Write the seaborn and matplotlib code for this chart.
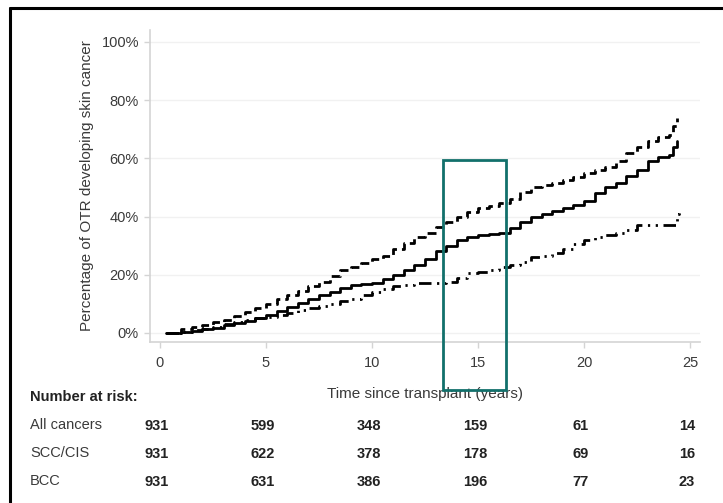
import numpy as np
import pandas as pd
import matplotlib
matplotlib.use("Agg")
import matplotlib.pyplot as plt
import matplotlib.transforms as mtransforms
from matplotlib.lines import Line2D
from matplotlib.patches import Rectangle
import seaborn as sns

# Cumulative incidence (%) over years since transplant
all_years = [0.3, 1, 1.5, 2, 2.5, 3, 3.5, 4, 4.5, 5, 5.5, 6, 6.5, 7, 7.5, 8, 8.5, 9, 9.5,
             10, 10.5, 11, 11.5, 12, 12.5, 13, 13.5, 14, 14.5, 15, 15.5, 16, 16.5, 17,
             17.5, 18, 18.5, 19, 19.5, 20, 20.5, 21, 21.5, 22, 22.5, 23, 23.5, 24, 24.2, 24.4]
all_pct = [0, 1.2, 2, 2.8, 3.6, 4.6, 5.8, 7.2, 8.6, 10, 11.5, 13, 14.5, 16, 17.5, 19.5, 21.5,
           22.5, 24, 25.5, 26.5, 29, 31, 33, 34.5, 36.5, 38, 40, 41.5, 43, 43.5, 44.5, 46,
           48.5, 50, 51, 51.5, 52.5, 53.5, 55, 56, 57, 59, 62, 64, 66, 67.5, 68, 71, 74]

scc_years = [0.3, 1, 1.5, 2, 2.5, 3, 3.5, 4, 4.5, 5, 5.5, 6, 6.5, 7, 7.5, 8, 8.5, 9, 9.5,
             10, 10.5, 11, 11.5, 12, 12.5, 13, 13.5, 14, 14.5, 15, 15.5, 16, 16.5, 17,
             17.5, 18, 18.5, 19, 19.5, 20, 20.5, 21, 21.5, 22, 22.5, 23, 23.5, 24, 24.2, 24.4]
scc_pct = [0, 0.3, 0.8, 1.2, 1.8, 2.6, 3.4, 4.2, 5, 6.2, 7.4, 8.8, 10.2, 11.8, 13, 14.2, 15.5,
           16.5, 16.8, 17, 18.5, 20, 21.5, 23.5, 25.5, 28, 30, 32, 33, 33.5, 34, 34.5, 36,
           38, 40, 41, 42, 43, 44, 45.5, 48, 50, 51.5, 54, 56, 59, 60.5, 61, 64, 66]

bcc_years = [0.3, 1, 1.5, 2, 2.5, 3, 3.5, 4, 4.5, 5, 5.5, 6, 6.5, 7, 7.5, 8, 8.5, 9, 9.5,
             10, 10.5, 11, 11.5, 12, 12.5, 13, 13.5, 14, 14.5, 15, 15.5, 16, 16.5, 17,
             17.5, 18, 18.5, 19, 19.5, 20, 20.5, 21, 21.5, 22, 22.5, 23, 23.5, 24, 24.2,
             24.4, 24.5]
bcc_pct = [0, 0.4, 0.9, 1.5, 2.2, 3, 3.8, 4.5, 5, 5.5, 6.3, 7, 7.8, 8.5, 9.3, 10, 11, 11.7,
           13, 14, 15, 16, 16.5, 17, 17.2, 17.2, 17.5, 19, 20.5, 21, 21.5, 22.5, 23.5, 24.5,
           26, 26.5, 27.5, 29, 30.5, 32, 33, 33.5, 34.5, 35.5, 37, 37, 37, 37, 37, 41, 43]

# Number-at-risk table
risk_years = [0, 5, 10, 15, 20, 25]
risk_groups = ["All cancers", "SCC/CIS", "BCC"]
risk_all = [931, 599, 348, 159, 61, 14]
risk_scc = [931, 622, 378, 178, 69, 16]
risk_bcc = [931, 631, 386, 196, 77, 23]

y_ticks = [0, 20, 40, 60, 80, 100]
x_ticks = [0, 5, 10, 15, 20, 25]

df = pd.concat([
    pd.DataFrame({"years": all_years, "pct": all_pct, "group": "All cancers"}),
    pd.DataFrame({"years": scc_years, "pct": scc_pct, "group": "SCC/CIS"}),
    pd.DataFrame({"years": bcc_years, "pct": bcc_pct, "group": "BCC"}),
], ignore_index=True)

sns.set_theme(style="white")
plt.rcParams["font.family"] = ["Liberation Sans", "DejaVu Sans"]

fig = plt.figure(figsize=(7.23, 5.03), dpi=100)
ax = fig.add_axes([0.2075, 0.3201, 0.7607, 0.6203])

sns.lineplot(
    data=df, x="years", y="pct", style="group",
    dashes={"All cancers": (3.2, 1.8), "SCC/CIS": "", "BCC": (4.5, 2, 0.8, 2, 0.8, 2)},
    color="black", linewidth=2.0, drawstyle="steps-post",
    estimator=None, sort=False, legend=False, ax=ax,
)

ax.set_xlim(-0.47, 25.47)
ax.set_ylim(-3.1, 104.1)
ax.set_xticks(x_ticks)
ax.set_yticks(y_ticks)
ax.set_yticklabels([f"{v}%" for v in y_ticks])
ax.yaxis.grid(True, color="#f1f1f1", linewidth=1.0)
ax.set_axisbelow(True)
for side in ("top", "right"):
    ax.spines[side].set_visible(False)
for side in ("left", "bottom"):
    ax.spines[side].set_color("#d4d4d4")
    ax.spines[side].set_linewidth(1.2)
ax.tick_params(axis="both", which="major", length=4, width=1, color="#d4d4d4",
               labelsize=10.5, labelcolor="#3a3a3a", direction="out", bottom=True, left=True)
ax.tick_params(axis="x", pad=6)
ax.tick_params(axis="y", pad=4)
ax.set_xlabel("Time since transplant (years)", fontsize=11, color="#3a3a3a", labelpad=12)
ax.set_ylabel("Percentage of OTR developing skin cancer", fontsize=11, color="#3a3a3a",
              labelpad=5)

# highlighted window around year 15
ax.add_patch(Rectangle((13.35, -19.6), 2.97, 79.1, fill=False, edgecolor="#12706b",
                       linewidth=2.0, clip_on=False, zorder=6))

# number-at-risk table, columns aligned with the time axis
trans = mtransforms.blended_transform_factory(ax.transData, fig.transFigure)
fig.text(30 / 723, 1 - 397 / 503, "Number at risk:", fontsize=10.5, fontweight="bold",
         color="#222222", ha="left", va="center")
row_y = [425, 453, 481]
for name, counts, yy in zip(risk_groups, [risk_all, risk_scc, risk_bcc], row_y):
    fig.text(30 / 723, 1 - yy / 503, name, fontsize=10.5, color="#3a3a3a",
             ha="left", va="center")
    for t, n in zip(risk_years, counts):
        ax.text(t - 0.15, 1 - (yy + 1.5) / 503, str(n), transform=trans,
                fontsize=10.5, fontweight="bold", color="#222222",
                family=["Liberation Sans Narrow", "Liberation Sans"],
                ha="center", va="center", clip_on=False)

# outer frame (left and top edges)
fig.add_artist(Line2D([9.5 / 723, 9.5 / 723], [0, 1 - 8 / 503], transform=fig.transFigure,
                      color="black", linewidth=2.2))
fig.add_artist(Line2D([9.5 / 723, 1], [1 - 8 / 503, 1 - 8 / 503], transform=fig.transFigure,
                      color="black", linewidth=2.2))

fig.savefig("out.png", dpi=100)
